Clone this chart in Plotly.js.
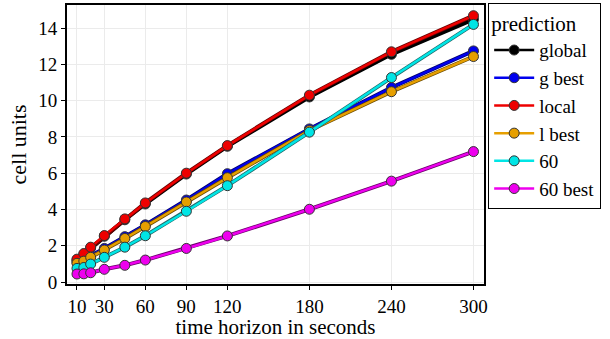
<!DOCTYPE html>
<html>
<head>
<meta charset="utf-8">
<script src="https://cdn.plot.ly/plotly-3.0.1.min.js"></script>
<style>html,body{margin:0;padding:0;background:#fff;}#chart{width:610px;height:339px;}</style>
</head>
<body>
<div id="chart"></div>
<script>
const horizons = [10, 15, 20, 30, 45, 60, 90, 120, 180, 240, 300];
const xTickVals = [10, 30, 60, 90, 120, 180, 240, 300];
const xTickText = ["10", "30", "60", "90", "120", "180", "240", "300"];
const yTickVals = [0, 2, 4, 6, 8, 10, 12, 14];
const seriesNames = ["global", "g best", "local", "l best", "60", "60 best"];
const globalVals = [1.2, 1.52, 1.88, 2.52, 3.43, 4.3, 5.95, 7.48, 10.2, 12.55, 14.48];
const gBestVals = [1.1, 1.25, 1.45, 1.85, 2.5, 3.15, 4.52, 5.97, 8.44, 10.72, 12.74];
const localVals = [1.26, 1.57, 1.92, 2.56, 3.48, 4.36, 6.0, 7.52, 10.3, 12.69, 14.68];
const lBestVals = [1.03, 1.15, 1.36, 1.76, 2.4, 3.06, 4.41, 5.75, 8.35, 10.49, 12.43];
const sixtyVals = [0.75, 0.8, 0.99, 1.36, 1.92, 2.55, 3.9, 5.31, 8.26, 11.27, 14.2];
const sixtyBestVals = [0.44, 0.45, 0.51, 0.7, 0.92, 1.21, 1.85, 2.54, 4.01, 5.56, 7.19];
const colors = ["#000000", "#0000ee", "#ee0000", "#e69f00", "#00e5e5", "#ee00ee"];
const edgeColors = ["#000000", "#00006a", "#6a0000", "#6a4a00", "#206a6a", "#6a006a"];
const allVals = [globalVals, gBestVals, localVals, lBestVals, sixtyVals, sixtyBestVals];

const FAM = "Liberation Serif";

const traces = [];
allVals.forEach((vals, i) => {
  traces.push({
    x: horizons,
    y: vals,
    name: seriesNames[i],
    legendgroup: seriesNames[i],
    showlegend: false,
    type: "scatter",
    mode: "lines",
    hoverinfo: "skip",
    line: {color: edgeColors[i], width: 4}
  });
  traces.push({
    x: horizons,
    y: vals,
    name: seriesNames[i],
    legendgroup: seriesNames[i],
    type: "scatter",
    mode: "lines+markers",
    line: {color: colors[i], width: 2.5},
    marker: {color: colors[i], size: 10, line: {color: "#333333", width: 1}}
  });
});

const layout = {
  width: 610,
  height: 339,
  margin: {l: 67, r: 126, t: 4, b: 55},
  paper_bgcolor: "#ffffff",
  plot_bgcolor: "#ffffff",
  font: {family: FAM, color: "#000000", size: 19},
  xaxis: {
    range: [2.7, 307.7],
    tickvals: xTickVals,
    ticktext: xTickText,
    ticks: "outside",
    ticklen: 4,
    tickcolor: "#000",
    showline: true,
    linecolor: "#000",
    linewidth: 2,
    mirror: true,
    showgrid: true,
    gridcolor: "#ebebeb",
    gridwidth: 1,
    zeroline: false,
    tickfont: {family: FAM, size: 19, color: "#000"},
    title: {text: "time horizon in seconds", font: {family: FAM, size: 21, color: "#000"}, standoff: 2}
  },
  yaxis: {
    range: [-0.11, 15.27],
    tickvals: yTickVals,
    ticks: "outside",
    ticklen: 4,
    tickcolor: "#000",
    showline: true,
    linecolor: "#000",
    linewidth: 2,
    mirror: true,
    showgrid: true,
    gridcolor: "#ebebeb",
    gridwidth: 1,
    zeroline: false,
    tickfont: {family: FAM, size: 19, color: "#000"},
    title: {text: "cell units", font: {family: FAM, size: 22, color: "#000"}, standoff: 6}
  },
  legend: {
    x: 1.01,
    y: 1.004,
    xanchor: "left",
    yanchor: "top",
    bordercolor: "#000",
    borderwidth: 1,
    bgcolor: "#fff",
    font: {family: FAM, size: 19, color: "#000"},
    itemwidth: 40,
    maxheight: 1,
    tracegroupgap: 0,
    title: {text: "prediction", font: {family: FAM, size: 21, color: "#000"}}
  },
  showlegend: true
};

Plotly.newPlot("chart", traces, layout, {displayModeBar: false, staticPlot: true});
</script>
</body>
</html>
